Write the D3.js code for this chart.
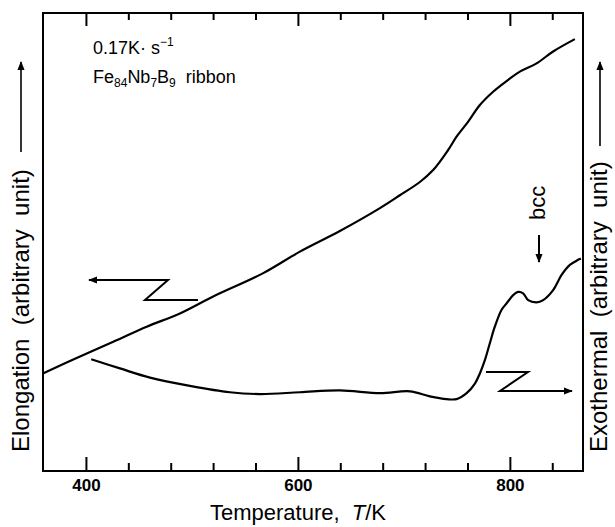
<!DOCTYPE html>
<html><head><meta charset="utf-8">
<script src="https://cdn.jsdelivr.net/npm/d3@7"></script>
<style>
body{margin:0;background:#fff}
svg{display:block}
text{font-family:"Liberation Sans",Arial,Helvetica,sans-serif;fill:#000}
</style>
</head><body>
<svg id="c" width="615" height="527"></svg>
<script>
// ---- data (temperature in K, signal in arbitrary units) ----
const elongT = [359.4,386.5,425.8,457.3,488.7,520.1,567.3,601.9,639.6,677.4,696.2,715.1,727.6,741.8,749.7,760.7,771.7,784.2,798.4,809.4,825.2,840.8,861.3];
const elongV = [21.3,24.2,28.2,31.5,34.4,38.1,43.2,47.9,52.4,57.4,60.2,63.1,65.7,70.1,73.0,76.3,79.9,82.8,85.4,87.2,89.0,91.6,94.3];
const dscT = [405.0,432.1,460.4,498.1,535.8,564.2,601.9,639.6,677.4,705.7,724.5,740.3,749.7,759.2,767.0,771.7,776.4,781.1,785.8,792.2,796.9,803.1,807.8,812.5,817.3,825.2,831.4,840.8,848.8,856.6,867.0];
const dscV = [24.4,22.4,20.4,18.6,17.2,16.8,17.2,17.6,17.0,17.4,16.3,15.7,15.7,17.0,19.1,21.3,24.2,27.9,31.5,35.2,36.6,38.4,39.1,38.8,37.3,36.8,37.3,39.5,42.8,45.0,46.4];
const majorTicks = [400,600,800];
const minorTicks = [440,480,520,560,640,680,720,760,840];
const xDomain = [359.5,869];
const yDomain = [0,100];

const svg = d3.select("#c");
const L=43,R=583,T=13,B=471;
const x = d3.scaleLinear().domain(xDomain).range([L,R]);
const y = d3.scaleLinear().domain(yDomain).range([B,T]);

// axes
const gb = svg.append("g").attr("transform",`translate(0,${B})`);
gb.call(d3.axisBottom(x).tickValues(majorTicks).tickSizeInner(-14).tickSizeOuter(0).tickFormat(d3.format("d")));
gb.selectAll(".tick text").attr("y",20).attr("dy",0).attr("font-size",17).attr("font-weight","bold")
  .attr("font-family","Liberation Sans, Arial, sans-serif").attr("fill","#000");
const gbm = svg.append("g").attr("transform",`translate(0,${B})`);
gbm.call(d3.axisBottom(x).tickValues(minorTicks).tickSizeInner(-8).tickSizeOuter(0).tickFormat(""));
const gt = svg.append("g").attr("transform",`translate(0,${T})`);
gt.call(d3.axisTop(x).tickValues(majorTicks).tickSizeInner(-13).tickSizeOuter(0).tickFormat(""));
const gtm = svg.append("g").attr("transform",`translate(0,${T})`);
gtm.call(d3.axisTop(x).tickValues(minorTicks).tickSizeInner(-7).tickSizeOuter(0).tickFormat(""));
svg.selectAll(".domain").remove();
svg.selectAll(".tick line").attr("stroke","#000").attr("stroke-width",2);

svg.append("rect").attr("x",L).attr("y",T).attr("width",R-L).attr("height",B-T)
  .attr("fill","none").attr("stroke","#000").attr("stroke-width",2);

// curves
const line = d3.line().x(d=>x(d[0])).y(d=>y(d[1])).curve(d3.curveCatmullRom.alpha(0.5));
svg.append("path").datum(d3.zip(elongT,elongV)).attr("d",line)
  .attr("fill","none").attr("stroke","#000").attr("stroke-width",2.2).attr("stroke-linejoin","round");
svg.append("path").datum(d3.zip(dscT,dscV)).attr("d",line)
  .attr("fill","none").attr("stroke","#000").attr("stroke-width",2.2).attr("stroke-linejoin","round");

// arrow marker
const defs = svg.append("defs");
defs.append("marker").attr("id","ah").attr("viewBox","0 0 10 10").attr("refX",9).attr("refY",5)
  .attr("markerWidth",9).attr("markerHeight",9).attr("markerUnits","userSpaceOnUse").attr("orient","auto")
  .append("path").attr("d","M0,1 L10,5 L0,9 Z").attr("fill","#000");

function zArrow(pts){
  svg.append("path").attr("d",d3.line()(pts)).attr("fill","none").attr("stroke","#000")
    .attr("stroke-width",2).attr("stroke-linejoin","miter").attr("marker-end","url(#ah)");
}
zArrow([[198,300],[145,300],[168,280],[89,280]]);
zArrow([[486,372],[528,372],[500,391],[572,391]]);

// annotations
const t1 = svg.append("text").attr("x",93).attr("y",54).attr("font-size",18);
t1.append("tspan").text("0.17K\u00B7 s");
t1.append("tspan").attr("font-size",12).attr("dy",-8).text("\u22121");
const t2 = svg.append("text").attr("x",93).attr("y",83).attr("font-size",18);
t2.append("tspan").text("Fe");
t2.append("tspan").attr("font-size",12).attr("dy",4).text("84");
t2.append("tspan").attr("dy",-4).text("Nb");
t2.append("tspan").attr("font-size",12).attr("dy",4).text("7");
t2.append("tspan").attr("dy",-4).text("B");
t2.append("tspan").attr("font-size",12).attr("dy",4).text("9");
t2.append("tspan").attr("dy",-4).text("\u00A0 ribbon");

// bcc
svg.append("text").attr("transform","translate(545,220) rotate(-90)").attr("font-size",22).text("bcc");
svg.append("line").attr("x1",539).attr("y1",235).attr("x2",539).attr("y2",262)
  .attr("stroke","#000").attr("stroke-width",2).attr("marker-end","url(#ah)");

// axis titles
svg.append("text").attr("x",298).attr("y",520).attr("text-anchor","middle").attr("font-size",22)
  .html('Temperature,\u00A0 <tspan font-style="italic">T</tspan>/K');
svg.append("text").attr("transform","translate(29,452) rotate(-90)").attr("font-size",24)
  .text("Elongation\u00A0 (arbitrary\u00A0 unit)");
svg.append("line").attr("x1",21).attr("y1",152).attr("x2",21).attr("y2",62)
  .attr("stroke","#000").attr("stroke-width",1.6).attr("marker-end","url(#ah)");
svg.append("text").attr("transform","translate(607,452) rotate(-90)").attr("font-size",24)
  .text("Exothermal\u00A0 (arbitrary\u00A0 unit)");
svg.append("line").attr("x1",600).attr("y1",146).attr("x2",600).attr("y2",62)
  .attr("stroke","#000").attr("stroke-width",1.6).attr("marker-end","url(#ah)");
</script>
</body></html>
